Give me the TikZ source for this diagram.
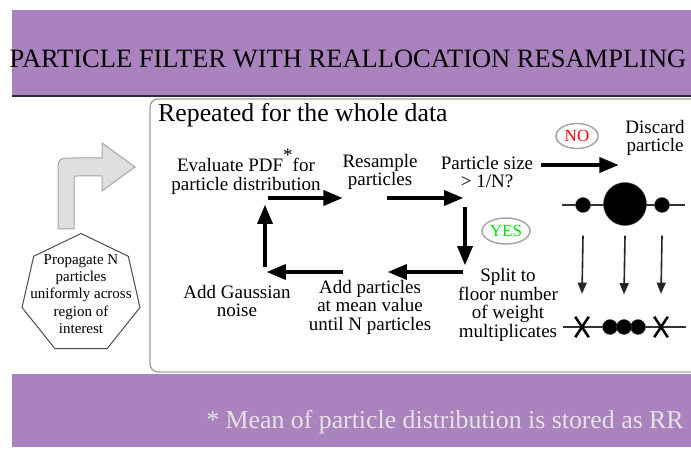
\documentclass[tikz,border=0pt]{standalone}
\usepackage{fontspec}
\setmainfont{Liberation Serif}
\usetikzlibrary{shapes.geometric, shapes.misc, arrows}

\definecolor{bandpurple}{RGB}{170,130,190}
\definecolor{bandedge}{RGB}{55,40,65}
\definecolor{notegray}{RGB}{228,228,228}
\definecolor{yesgreen}{RGB}{0,225,0}

\begin{document}
\begin{tikzpicture}[x=1pt, y=-1pt, font=\fontsize{19}{18.5}\selectfont]
			\tikzstyle{band} = [fill=bandpurple, draw=none]
			
			\tikzstyle{steptext} = [align=center, inner sep=0pt]
			
			\tikzstyle{answer} = [ellipse, draw=gray!70, line width=1.5pt, fill=white, minimum width=42pt, minimum height=25pt, inner sep=0pt, font=\fontsize{17}{18}\selectfont]
			
			\tikzstyle{ball} = [circle, fill=black, draw=black!70, inner sep=0pt]
			
			\tikzstyle{arrow} = [->,>= triangle 45, line width=3.5pt]
			\tikzstyle{thinarrow} = [->,>= triangle 45, line width=1.6pt, draw=black!85]
			
			\useasboundingbox (0,0) rectangle (691,457);
			\fill [white] (0,0) rectangle (691,457);
			
			% Bands at top and bottom
			\fill [band] (12,10) rectangle (691,96);
			\draw [bandedge, line width=2.5pt] (12,96) -- (691,96);
			\fill [band] (12,374) rectangle (691,447);
			\node (title) [anchor=base, font=\fontsize{26.5}{30}\selectfont] at (348,68) {PARTICLE FILTER WITH REALLOCATION RESAMPLING};
			\node (note) [anchor=base, text=notegray, font=\fontsize{25.8}{30}\selectfont] at (445,428) {* Mean of particle distribution is stored as RR};
			
			% Box of the loop
			\draw [gray!75, line width=1.3pt, fill=white, rounded corners=8pt] (150,99) rectangle (720,372);
			\node (repeated) [anchor=base west, inner sep=0pt, font=\fontsize{25.8}{28}\selectfont] at (158,122) {Repeated for the whole data};
			
			% Start of the filter
			\node (seed) [regular polygon, regular polygon sides=7, minimum size=121pt, inner sep=0pt, draw=black!70, line width=1pt, fill=white] at (81,294) {};
			\node (seedtext) [steptext, font=\fontsize{15}{17.4}\selectfont] at (seed.center) {Propagate N\\particles\\uniformly across\\region of\\interest};
			\draw [fill=gray!25, draw=gray!70, line width=1pt] (58,229) -- (58,174) .. controls (58,158) and (58,158) .. (74,158) -- (102,158) -- (102,143) -- (135,167) -- (102,191) -- (102,176) -- (78,176) .. controls (74,176) and (74,176) .. (74,180) -- (74,229) -- cycle;
			
			% Steps of the loop
			\node (eval) [steptext] at (246,172) {Evaluate PDF\makebox[0.5em]{\raisebox{10pt}{*}}for\\particle distribution};
			\node (resample) [steptext] at (380,172) {Resample\\particles};
			\node (sizetest) [steptext] at (487,172) {Particle size\\> 1/N?};
			\node (discard) [steptext] at (655,138) {Discard\\particle};
			\node (split) [steptext] at (508,305) {Split to\\floor number\\of weight\\multiplicates};
			\node (addpart) [steptext] at (370,307) {Add particles\\at mean value\\until N particles};
			\node (gauss) [steptext] at (237,301) {Add Gaussian\\noise};
			\node (nolabel) [answer, text=red] at (577,136) {NO};
			\node (yeslabel) [answer, text=yesgreen, minimum width=48pt, minimum height=26pt] at (506,231) {YES};
			
			% Corners of the loop
			\coordinate (tl) at (265,198);
			\coordinate (tr) at (465,198);
			\coordinate (br) at (465,272);
			\coordinate (bl) at (265,272);
			
			% Arrows
			\draw [arrow] ([xshift=3pt]tl) -- (tl -| resample.west);
			\draw [arrow] ([xshift=122pt]tl) -- ([xshift=-2pt]tr);
			\draw [arrow] ([yshift=-9pt]tr) -- ([yshift=7pt]br);
			\draw [arrow] ([xshift=-2pt]br) -- ([xshift=123pt]bl);
			\draw [arrow] ([xshift=78pt]bl) -- ([xshift=2pt]bl);
			\draw [arrow] ([yshift=5pt]bl) -- ([yshift=-7pt]tl);
			\draw [arrow] ([xshift=8pt,yshift=7pt]sizetest.east) -- ++(77,0);
			
			% Particles before and after the split
			\draw [black!80, line width=2.5pt] (562,205) -- (685,205);
			\node (pa) [ball, minimum size=15pt] at (583,205) {};
			\node (pb) [ball, minimum size=43pt] at (625,204) {};
			\node (pc) [ball, minimum size=15pt] at (662,205) {};
			\draw [black!80, line width=2.5pt] (563,327) -- (686,327);
			\node (qa) [cross out, draw=black, line width=2.5pt, minimum width=11pt, minimum height=18pt, inner sep=0pt] at (582,327) {};
			\node (qb1) [ball, minimum size=15pt] at (610,327) {};
			\node (qb3) [ball, minimum size=15pt] at (638,327) {};
			\node (qb2) [ball, minimum size=15pt] at (624,327) {};
			\node (qc) [cross out, draw=black, line width=2.5pt, minimum width=11pt, minimum height=18pt, inner sep=0pt] at (661,327) {};
			\draw [thinarrow] ([yshift=-23pt]pa.south) -- ([yshift=23pt]qa.north);
			\draw [thinarrow] ([yshift=-10pt]pb.south) -- ([yshift=25pt]qb2.north);
			\draw [thinarrow] ([yshift=-23pt]pc.south) -- ([yshift=23pt]qc.north);
		\end{tikzpicture}
\end{document}
